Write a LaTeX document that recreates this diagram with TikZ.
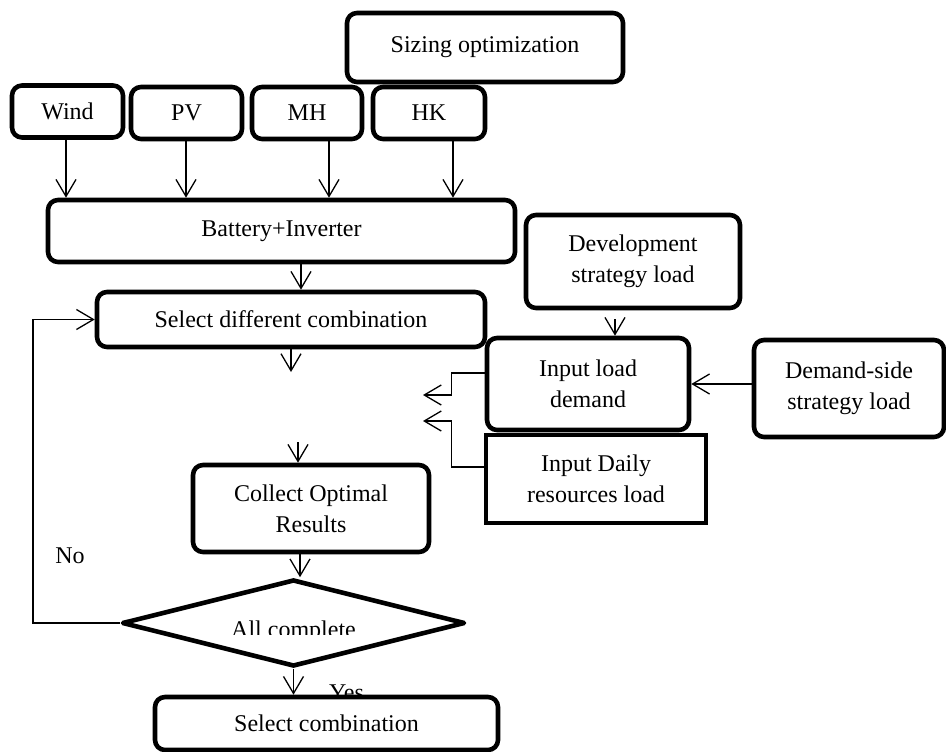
\documentclass[tikz,border=0pt]{standalone}
\usepackage{fontspec}
\setmainfont{Liberation Serif}
\usetikzlibrary{arrows.meta,shapes.geometric}
\begin{document}
\begin{tikzpicture}[x=1pt,y=-1pt,
  txt/.style={font=\fontsize{24}{31}\selectfont, text=black},
  box/.style={txt, draw=black, line width=4.6pt, rounded corners=10pt, inner sep=0pt, align=center},
  sqbox/.style={txt, draw=black, line width=4.6pt, inner sep=0pt, align=center},
  arr/.style={draw=black, line width=1.3pt, -{Straight Barb[length=17pt,width=20pt,line width=1.3pt]}},
  lbl/.style={txt, inner sep=0pt}]
\useasboundingbox (0,0) rectangle (946,752);

% top boxes
\node[box, minimum width=276pt, minimum height=69pt] (siz) at (485,47.5) {Sizing optimization};
\node[box, minimum width=111pt, minimum height=52pt] (wind) at (67.5,111.5) {Wind};
\node[box, minimum width=111pt, minimum height=52pt] (pv) at (186.5,113) {PV};
\node[box, minimum width=110pt, minimum height=52pt] (mh) at (307,113) {MH};
\node[box, minimum width=112pt, minimum height=52pt] (hk) at (429,113) {HK};

\node[box, minimum width=467pt, minimum height=62pt] (bat) at (281.5,231) {Battery+Inverter};
\node[box, minimum width=388pt, minimum height=55pt] (sel) at (291,319.5) {Select different combination};
\node[box, minimum width=236pt, minimum height=87pt] (coll) at (311,508.5) {Collect Optimal\\Results};
\node[diamond, draw=black, line width=4.6pt, line join=round, inner sep=0pt, minimum width=343pt, minimum height=87pt] (dia) at (293.5,623) {};
\begin{scope}
  \clip (150,600) rectangle (440,634);
  \node[lbl, anchor=base] (alltxt) at (293.5,637.5) {All complete};
\end{scope}
\node[lbl, anchor=base] (yes) at (346.5,700.5) {Yes};
\node[box, fill=white, minimum width=343pt, minimum height=53pt] (selc) at (326.5,723.5) {Select combination};
\node[lbl] (no) at (70,556) {No};

% right side
\node[box, minimum width=214pt, minimum height=93pt] (dev) at (633,261.5) {Development\\strategy load};
\node[box, minimum width=202pt, minimum height=92pt] (inp) at (588,384) {Input load\\demand};
\node[box, minimum width=190pt, minimum height=97pt] (dem) at (849,388.5) {Demand-side\\strategy load};
\node[sqbox, minimum width=220pt, minimum height=88pt] (daily) at (596,479) {Input Daily\\resources load};

% free ends
\coordinate (d1) at (291,372);
\coordinate (d2) at (298,442);
\coordinate (t1) at (423,395);
\coordinate (t2) at (423,421);
\coordinate (lp) at (33,623);

% connectors
\draw[arr] ([xshift=-1.5pt]wind.south) -- ([xshift=-1.5pt]wind.south |- bat.north);
\draw[arr] ([xshift=-0.5pt]pv.south) -- ([xshift=-0.5pt]pv.south |- bat.north);
\draw[arr] ([xshift=22pt]mh.south) -- ([xshift=22pt]mh.south |- bat.north);
\draw[arr] ([xshift=24pt]hk.south) -- ([xshift=24pt]hk.south |- bat.north);
\draw[arr] ([xshift=19.5pt]bat.south) -- ([xshift=19.5pt]bat.south |- sel.north);
\draw[arr] (sel.south) -- (d1);
\draw[arr] (d2) -- (d2 |- coll.north);
\draw[arr] ([xshift=-11pt]coll.south) -- ([xshift=-11pt]coll.south |- dia.north);
\draw[arr] (dia.south) -- (dia.south |- selc.north);
\draw[arr] (dia.west) -- (lp) |- (sel.west);

\draw[arr] ([xshift=-18pt,yshift=-9pt]dev.south) -- ([xshift=-18pt]dev.south |- inp.north);
\draw[arr] (dem.west |- inp.east) -- (inp.east);
\draw[arr] ([yshift=11pt]inp.west) -- ++(-33pt,0) |- (t1);
\draw[arr] ([yshift=12pt]daily.west) -- ++(-32pt,0) |- (t2);
\end{tikzpicture}
\end{document}
